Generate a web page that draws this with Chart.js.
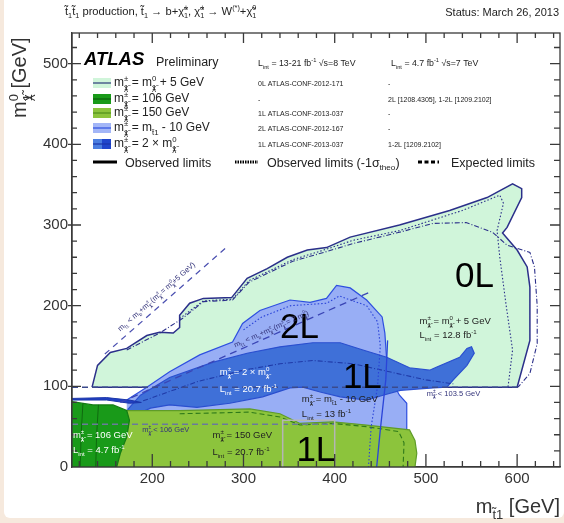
<!DOCTYPE html>
<html>
<head>
<meta charset="utf-8">
<script src="https://cdn.jsdelivr.net/npm/chart.js@4.4.0/dist/chart.umd.min.js"></script>
<style>
html, body { margin: 0; padding: 0; background: #f6e9dd; }
#painel { position: absolute; left: 4px; top: 0; width: 560px; height: 518px; background: #fff; border-radius: 0 0 6px 6px; }
canvas { position: absolute; left: 0; top: 0; }
</style>
</head>
<body>
<div id="painel"></div>
<canvas id="grafico" width="564" height="523"></canvas>
<script>
// Dados (m_stop no eixo x, m_chi0 no eixo y, em GeV)

// 0L, m_chi+ = m_chi0 + 5 GeV (observado)
const zeroL_x = [134,140,154,172,194,208,223,230,230,241,256,287,304,326,348,370,391,417,471,526,567,595,605,605,589,584,600,611,614,614,600,134];
const zeroL_y = [99,126,142,147,163,167,166,173,188,203,209,210,234,246,260,269,272,285,300,318,334,351,345,334,297,290,269,248,223,157,99,99];
// 0L esperado e -1 sigma
const zeroLesp_x = [172,208,233,256,288,306,330,354,391,420,471,508,544,573,589,614,619,622,622,614,601];
const zeroLesp_y = [145,166,184,205,207,229,242,255,267,277,291,302,303,291,275,266,248,200,153,116,99];
const zeroLsig_x = [230,256,288,306,330,354,391,420,471,540,581,585,578,581,588,595,590];
const zeroLsig_y = [184,206,208,231,244,257,270,281,293,318,337,327,293,260,200,145,99];

// m_chi+ = 106 GeV (7 TeV)
const g106_x = [112,135,157,172,175,172,165,161,112];
const g106_y = [81,77,77,70,58,37,17,0,0];
const g106a_x = [124,122,121];
const g106a_y = [79,40,0];
const g106b_x = [141,139,138];
const g106b_y = [77,40,0];

// m_chi+ = 150 GeV (1L)
const g150_x = [112,230,307,340,362,398,435,482,488,490,488,112];
const g150_y = [70,70,72,66,54,56,52,46,33,17,0,0];
const g150esp_x = [230,307,340,362,398,435,470,476,475];
const g150esp_y = [66,68,62,52,54,50,44,30,0];

// m_chi+ = m_stop - 10 GeV (2L)
const menos10_x = [172,194,219,252,288,299,318,351,373,391,402,417,435,452,455,458,471,479,479,172];
const menos10_y = [83,99,118,139,155,178,194,207,204,209,225,222,207,186,166,116,89,79,0,0];
const menos10lin_x = [458,456,450,446];
const menos10lin_y = [157,108,46,0];
const menos10sig_x = [300,320,352,391,405,435,447,450,447,440,437];
const menos10sig_y = [170,186,200,203,212,200,180,150,100,50,0];

// m_chi+ = 2 x m_chi0 (1L)
const dobro_x = [173,187,219,267,304,340,376,406,431,457,482,504,512,537,545,550,553,545,530,523,508,472,453,435,406,384,365,351,321,285,249,219,198,181,173];
const dobro_y = [71,89,111,130,141,149,154,154,145,136,123,120,124,136,147,149,141,126,108,99,98,95,89,83,87,93,99,98,87,79,74,77,73,64,71];
const dobroSig_x = [190,250,300,340,376,420,460,500,530];
const dobroSig_y = [82,106,120,128,132,128,118,108,103];
// 1-2L 7 TeV
const dobro7_x = [112,150,175,188,175,150,112];
const dobro7_y = [85,86,83,80,79,83,83];

// limites cinematicos e LEP
const lep_x = [112,601];
const lep_y = [99,99];
const lim106_x = [112,400];
const lim106_y = [53,53];
const cin5_x = [148,280];
const cin5_y = [140,271];
const cin2x_x = [165,441];
const cin2x_y = [80,218];

// caixa cinza em volta do "1L" de baixo
const caixa_x = [343,343,400,400,343];
const caixa_y = [-6,58,58,-6,-6];

const xTicks = [200,300,400,500,600];
const yTicks = [0,100,200,300,400,500];

const CH = 'χ\u0303';
const TT = 't\u0303';
const fonte = '"Liberation Sans", Arial, sans-serif';

function pontos(xs, ys) {
    return xs.map((v, i) => ({x: v, y: ys[i]}));
}

function regiao(xs, ys, fundo, borda, ordem, larg = 1.2) {
    return {data: pontos(xs, ys), showLine: true, fill: 'shape', backgroundColor: fundo,
        borderColor: borda, borderWidth: larg, pointRadius: 0, order: ordem};
}

function linha(xs, ys, cor, tracejado, ordem, larg = 1.3) {
    return {data: pontos(xs, ys), showLine: true, fill: false, borderColor: cor,
        borderDash: tracejado, borderWidth: larg, pointRadius: 0, order: ordem};
}

// texto com _{sub} e ^{sup}
function textoRico(ctx, txt, x, y, tam, cor, opc = {}) {
    const partes = [];
    const re = /([_^])\{([^}]*)\}/g;
    let ult = 0, m;
    while ((m = re.exec(txt)) !== null) {
        if (m.index > ult) partes.push([txt.slice(ult, m.index), 0]);
        partes.push([m[2], m[1] === '_' ? 1 : 2]);
        ult = re.lastIndex;
    }
    if (ult < txt.length) partes.push([txt.slice(ult), 0]);
    const estilo = opc.estilo || '';
    const fam = opc.familia || fonte;
    const fontDe = (t) => estilo + ' ' + t + 'px ' + fam;

    // mede
    const medidas = [];
    let cx = 0, iniScr = 0, largScr = 0, modoAnt = 0;
    for (const p of partes) {
        ctx.font = fontDe(p[1] ? tam * 0.65 : tam);
        const w = ctx.measureText(p[0]).width;
        let px;
        if (p[1] && modoAnt && p[1] !== modoAnt) {
            px = iniScr;
            cx = iniScr + Math.max(largScr, w);
        } else {
            px = cx;
            iniScr = cx; largScr = w;
            cx += w;
        }
        medidas.push(px);
        modoAnt = p[1];
    }
    ctx.save();
    ctx.translate(x, y);
    if (opc.rot) ctx.rotate(opc.rot);
    const desl = opc.alinh === 'right' ? -cx : opc.alinh === 'center' ? -cx / 2 : 0;
    ctx.fillStyle = cor;
    ctx.textAlign = 'left';
    ctx.textBaseline = 'alphabetic';
    partes.forEach((p, i) => {
        const t = p[1] ? tam * 0.65 : tam;
        ctx.font = fontDe(t);
        const dy = p[1] === 1 ? tam * 0.3 : p[1] === 2 ? -tam * 0.42 : 0;
        ctx.fillText(p[0], desl + medidas[i], dy);
    });
    ctx.restore();
}

const mPm = `m_{${CH}}^{±}_{1}`;
const m0 = `m_{${CH}}^{0}_{1}`;

// rotulos dentro do grafico, em coordenadas dos eixos
const rotulos = [
    [`${mPm} = ${m0} + 5 GeV`, 493, 177, 9.5, '#222'],
    ['L_{int} = 12.8 fb^{-1}', 493, 160, 9.5, '#222'],
    [`${mPm} = 2 × ${m0}`, 274, 114, 9.5, '#fff'],
    ['L_{int} = 20.7 fb^{-1}', 274, 93, 9.5, '#fff'],
    [`${mPm} = m_{${TT}}_{1} - 10 GeV`, 364, 80, 9.5, '#222'],
    ['L_{int} = 13 fb^{-1}', 364, 62, 9.5, '#222'],
    [`${mPm} = 150 GeV`, 266, 36, 9.5, '#222'],
    ['L_{int} = 20.7 fb^{-1}', 266, 15, 9.5, '#222'],
    [`${mPm} = 106 GeV`, 113, 36, 9.5, '#fff'],
    ['L_{int} = 4.7 fb^{-1}', 113, 17, 9.5, '#fff'],
    [`${mPm} < 106 GeV`, 189, 43, 7.5, '#33337a'],
    [`${mPm} < 103.5 GeV`, 501, 88, 7.5, '#33337a']
];
const grandes = [['0L', 532, 223], ['2L', 340, 160], ['1L', 409, 98], ['1L', 358, 8]];

const textos = {
    id: 'textos',
    afterDraw(chart) {
        const {ctx, chartArea: a, scales: {x, y}} = chart;
        // moldura e marcas para dentro
        ctx.save();
        ctx.strokeStyle = '#3a3a3a';
        ctx.lineWidth = 1.3;
        ctx.strokeRect(a.left, a.top, a.right - a.left, a.bottom - a.top);
        ctx.beginPath();
        for (let v = 120; v < 647; v += 20) {
            const px = x.getPixelForValue(v);
            const maior = v % 100 === 0;
            ctx.moveTo(px, a.bottom); ctx.lineTo(px, a.bottom - (maior ? 13 : 6));
            ctx.moveTo(px, a.top); ctx.lineTo(px, a.top + (maior ? 10 : 5));
        }
        for (let v = 20; v < 538; v += 20) {
            const py = y.getPixelForValue(v);
            const maior = v % 100 === 0;
            ctx.moveTo(a.left - (maior ? 4 : 0), py); ctx.lineTo(a.left + (maior ? 9 : 5), py);
            ctx.moveTo(a.right, py); ctx.lineTo(a.right - (maior ? 10 : 6), py);
        }
        ctx.stroke();
        ctx.restore();

        // rotulos das regioes
        rotulos.forEach(r => textoRico(ctx, r[0], x.getPixelForValue(r[1]), y.getPixelForValue(r[2]), r[3], r[4]));
        grandes.forEach(g => textoRico(ctx, g[0], x.getPixelForValue(g[1]), y.getPixelForValue(g[2]), 35, '#000'));
        const ang1 = Math.atan2(y.getPixelForValue(271) - y.getPixelForValue(140), x.getPixelForValue(280) - x.getPixelForValue(148));
        textoRico(ctx, `m_{${TT}}_{1} < m_{b}+${mPm} (${mPm} = ${m0}+5 GeV)`, x.getPixelForValue(165), y.getPixelForValue(168), 7.5, '#33337a', {rot: ang1});
        const ang2 = Math.atan2(y.getPixelForValue(218) - y.getPixelForValue(80), x.getPixelForValue(441) - x.getPixelForValue(165));
        textoRico(ctx, `m_{${TT}}_{1} < m_{b}+${mPm} (${mPm} = 2 ${m0})`, x.getPixelForValue(291), y.getPixelForValue(148), 7.5, '#33337a', {rot: ang2});

        // cabecalho
        textoRico(ctx, `${TT}_{1}${TT}_{1} production, ${TT}_{1} → b+${CH}^{±}_{1}, ${CH}^{±}_{1} → W^{(*)}+${CH}^{0}_{1}`, 65, 15, 11.2, '#222');
        textoRico(ctx, 'Status: March 26, 2013', 559, 16, 11, '#222', {alinh: 'right'});

        // titulos dos eixos
        textoRico(ctx, `m_{${CH}}^{0}_{1} [GeV]`, 26, 118, 20, '#333', {rot: -Math.PI / 2});
        textoRico(ctx, `m_{${TT}}_{1} [GeV]`, 560, 513, 20, '#333', {alinh: 'right'});

        // legenda
        textoRico(ctx, 'ATLAS', 84, 65, 18.5, '#000', {estilo: 'italic bold'});
        textoRico(ctx, 'Preliminary', 156, 66, 12.5, '#222');
        textoRico(ctx, 'L_{int} = 13-21 fb^{-1} √s=8 TeV', 258, 66, 8.8, '#222');
        textoRico(ctx, 'L_{int} = 4.7 fb^{-1} √s=7 TeV', 391, 66, 8.8, '#222');
        const itens = [
            [83, '#d0f5da', '#d0f5da', '#2a3a7a', `${mPm} = ${m0} + 5 GeV`, '0L ATLAS-CONF-2012-171', '-'],
            [99, '#199a19', '#199a19', '#0d5f0d', `${mPm} = 106 GeV`, '-', '2L [1208.4305], 1-2L [1209.2102]'],
            [113, '#8cc43c', '#8cc43c', '#4f8f1c', `${mPm} = 150 GeV`, '1L ATLAS-CONF-2013-037', '-'],
            [128, '#a3b6f7', '#a3b6f7', '#2e4fe0', `${mPm} = m_{${TT}}_{1} - 10 GeV`, '2L ATLAS-CONF-2012-167', '-'],
            [144, '#4a7ee0', '#1f45cc', '#1a35a8', `${mPm} = 2 × ${m0}`, '1L ATLAS-CONF-2013-037', '1-2L [1209.2102]']
        ];
        itens.forEach(it => {
            ctx.fillStyle = it[1]; ctx.fillRect(93, it[0] - 5, 9, 10);
            ctx.fillStyle = it[2]; ctx.fillRect(102, it[0] - 5, 9, 10);
            ctx.strokeStyle = it[3]; ctx.lineWidth = 1.2;
            ctx.beginPath(); ctx.moveTo(93, it[0]); ctx.lineTo(111, it[0]); ctx.stroke();
            textoRico(ctx, it[4], 114, it[0] + 3, 12, '#222');
            textoRico(ctx, it[5], 258, it[0] + 3, 7, '#222');
            textoRico(ctx, it[6], 388, it[0] + 3, 7, '#222');
        });
        ctx.strokeStyle = '#000';
        ctx.lineWidth = 3;
        ctx.beginPath(); ctx.moveTo(93, 162); ctx.lineTo(117, 162); ctx.stroke();
        ctx.setLineDash([1.5, 1]);
        ctx.beginPath(); ctx.moveTo(235, 162); ctx.lineTo(258, 162); ctx.stroke();
        ctx.setLineDash([4, 2.5]);
        ctx.beginPath(); ctx.moveTo(418, 162); ctx.lineTo(439, 162); ctx.stroke();
        ctx.setLineDash([]);
        textoRico(ctx, 'Observed limits', 125, 166.5, 12.5, '#222');
        textoRico(ctx, 'Observed limits (-1σ_{theo})', 267, 166.5, 12.5, '#222');
        textoRico(ctx, 'Expected limits', 451, 166.5, 12.5, '#222');
    }
};

const ctx = document.getElementById('grafico').getContext('2d');
const azulEsc = '#2b2f8a';

new Chart(ctx, {
    type: 'scatter',
    data: {
        datasets: [
            linha(caixa_x, caixa_y, '#b5b5b5', [], 1, 1.5),
            linha(lep_x, lep_y, '#3b4a8c', [6, 4], 2, 1.5),
            linha(lim106_x, lim106_y, '#6a7a9a', [6, 4], 2, 1.3),
            linha(cin5_x, cin5_y, '#4a4fb0', [6, 5], 2, 1.2),
            linha(cin2x_x, cin2x_y, '#3a45b5', [7, 5], 2, 1.3),
            linha(zeroLesp_x, zeroLesp_y, azulEsc, [5, 2, 1, 2], 3, 1.1),
            linha(zeroLsig_x, zeroLsig_y, azulEsc, [1.5, 2], 3, 1.1),
            linha(menos10lin_x, menos10lin_y, '#2a44d8', [], 3, 1.3),
            linha(menos10sig_x, menos10sig_y, '#2a44d8', [1.5, 2], 3, 1.1),
            linha(dobroSig_x, dobroSig_y, '#1f3aa8', [5, 2, 1, 2], 3, 1.1),
            linha(g150esp_x, g150esp_y, '#2f7a1a', [5, 3], 3, 1.1),
            linha(g106a_x, g106a_y, '#0f6a0f', [], 3, 1),
            linha(g106b_x, g106b_y, '#0f6a0f', [], 3, 1),
            regiao(dobro7_x, dobro7_y, '#2140c4', '#1a35a8', 3, 1),
            regiao(g106_x, g106_y, '#199a19', '#157d15', 4),
            regiao(g150_x, g150_y, '#8cc43c', '#5f9c28', 5),
            regiao(dobro_x, dobro_y, '#3f70d8', '#2a4fcf', 7),
            regiao(menos10_x, menos10_y, '#98aef5', '#2e4fe0', 8),
            regiao(zeroL_x, zeroL_y, '#d0f5da', azulEsc, 9, 1.5)
        ]
    },
    options: {
        responsive: false,
        animation: false,
        devicePixelRatio: 1,
        layout: {padding: {left: 0, top: 33, right: 4, bottom: 0}},
        plugins: {legend: {display: false}, tooltip: {enabled: false}},
        scales: {
            x: {
                type: 'linear', min: 112, max: 647,
                grid: {display: false, drawTicks: false},
                border: {display: true, color: '#3a3a3a', width: 1.3},
                afterFit: (s) => { s.height = 56; },
                ticks: {
                    stepSize: 100, autoSkip: false, maxRotation: 0, padding: 3,
                    color: '#333', font: {family: fonte, size: 15},
                    callback: (v) => xTicks.includes(v) ? v : ''
                }
            },
            y: {
                min: 0, max: 538,
                grid: {display: false, drawTicks: false},
                border: {display: true, color: '#3a3a3a', width: 1.3},
                afterFit: (s) => { s.width = 72; },
                ticks: {
                    stepSize: 100, autoSkip: false, padding: 4,
                    color: '#333', font: {family: fonte, size: 15},
                    callback: (v) => yTicks.includes(v) ? v : ''
                }
            }
        }
    },
    plugins: [textos]
});
</script>
</body>
</html>
